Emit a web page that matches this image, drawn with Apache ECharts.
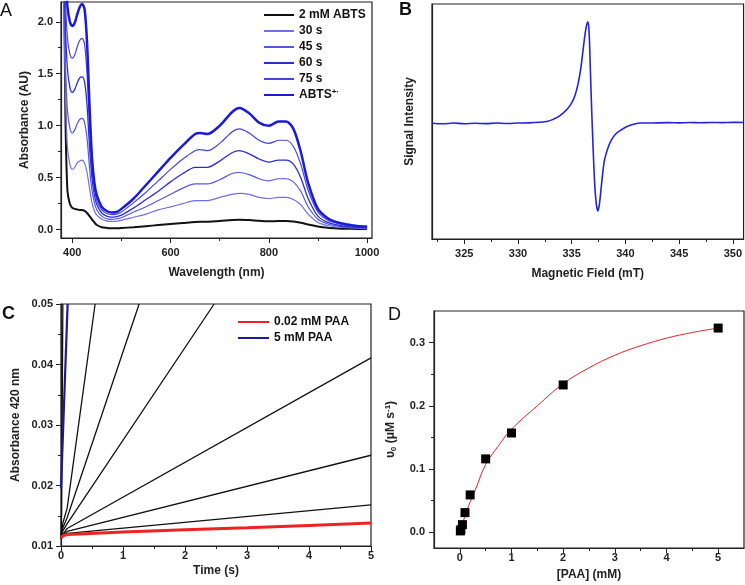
<!DOCTYPE html>
<html><head><meta charset="utf-8">
<script src="https://cdn.jsdelivr.net/npm/echarts@6/dist/echarts.min.js"></script>
<style>html,body{margin:0;padding:0;background:#fff}#c{width:745px;height:585px}</style>
</head><body><div id="c"></div>
<script>
// ---------- Panel A: UV-vis spectra ----------
const wavelengths = [380,383,386,390,395,400,405,410,415,420,425,430,435,440,445,450,460,470,480,490,500,525,550,575,600,625,650,660,675,700,725,740,760,780,800,820,835,850,865,880,900,920,940,960,980,1000];
const absABTS   = [3.0,2.5,1.1,0.38,0.25,0.21,0.2,0.195,0.19,0.19,0.18,0.16,0.13,0.1,0.07,0.045,0.024,0.017,0.014,0.014,0.016,0.024,0.034,0.044,0.054,0.064,0.074,0.076,0.077,0.084,0.093,0.096,0.092,0.085,0.08,0.083,0.083,0.078,0.066,0.05,0.031,0.018,0.012,0.009,0.007,0.006];
const abs30s    = [3.0,2.1,1.3,0.8,0.63,0.58,0.6,0.64,0.66,0.67,0.64,0.55,0.4,0.26,0.18,0.14,0.1,0.085,0.08,0.082,0.09,0.12,0.15,0.19,0.22,0.25,0.28,0.28,0.28,0.31,0.34,0.35,0.34,0.31,0.3,0.31,0.31,0.29,0.24,0.15,0.07,0.04,0.025,0.02,0.015,0.01];
const abs45s    = [3.0,2.3,1.6,1.15,0.98,0.93,0.96,1.02,1.06,1.07,1.03,0.88,0.6,0.38,0.26,0.19,0.13,0.105,0.1,0.105,0.115,0.17,0.22,0.28,0.34,0.4,0.44,0.44,0.44,0.48,0.54,0.55,0.53,0.49,0.47,0.49,0.49,0.46,0.37,0.22,0.1,0.055,0.035,0.025,0.02,0.015];
const abs60s    = [3.0,2.5,1.95,1.55,1.37,1.32,1.35,1.41,1.46,1.47,1.42,1.2,0.8,0.5,0.33,0.24,0.16,0.13,0.12,0.125,0.14,0.21,0.29,0.37,0.46,0.54,0.6,0.6,0.6,0.66,0.74,0.76,0.73,0.68,0.65,0.67,0.67,0.63,0.5,0.3,0.13,0.07,0.045,0.03,0.025,0.02];
const abs75s    = [3.0,2.6,2.2,1.85,1.69,1.65,1.68,1.76,1.82,1.84,1.78,1.5,1.0,0.6,0.4,0.28,0.19,0.155,0.145,0.15,0.17,0.26,0.36,0.47,0.58,0.68,0.76,0.77,0.76,0.83,0.94,0.97,0.93,0.86,0.83,0.86,0.86,0.8,0.63,0.38,0.17,0.09,0.06,0.04,0.03,0.025];
const absRadical= [3.2,2.8,2.45,2.15,2.0,1.96,1.99,2.07,2.14,2.17,2.12,1.8,1.2,0.7,0.45,0.33,0.22,0.18,0.165,0.17,0.2,0.3,0.43,0.56,0.69,0.81,0.92,0.93,0.92,1.0,1.13,1.17,1.12,1.03,1.0,1.04,1.04,0.97,0.75,0.45,0.2,0.11,0.07,0.05,0.035,0.03];
const aXTicks = [400,600,800,1000];
const aXMinor = [500,700,900];
const aYTicks = [0,0.5,1.0,1.5,2.0];
const aYMinor = [0.25,0.75,1.25,1.75];

// ---------- Panel B: EPR spectrum ----------
const eprField  = [322,323,324,325,326,327,328,329,330,331,332,332.8,333.3,333.7,334.2,334.6,335.0,335.3,335.6,335.85,336.06,336.25,336.4,336.52,336.62,336.72,336.83,336.98,337.14,337.3,337.45,337.6,337.76,337.9,338.06,338.35,338.69,339.1,339.6,340.2,340.85,341.5,342.5,344,345,346,347,348,349,350,351];
const eprSignal = [0,-0.005,0.002,-0.004,0,-0.003,0.002,-0.002,0.002,0.004,0.01,0.02,0.04,0.06,0.1,0.14,0.2,0.27,0.39,0.54,0.72,0.88,0.97,1.0,0.9,0.6,0.23,-0.2,-0.59,-0.8,-0.863,-0.78,-0.62,-0.48,-0.36,-0.25,-0.165,-0.105,-0.066,-0.03,-0.007,0.002,0.003,0.006,0.004,0.007,0.005,0.008,0.006,0.009,0.008];
const bXTicks = [325,330,335,340,345,350];
const bXMinor = [322.5,327.5,332.5,337.5,342.5,347.5];

// ---------- Panel C: kinetics at 420 nm ----------
const cRedT  = [0,0.03,0.1,0.3,1,2,3,4,5];
const cRedA  = [0.0113,0.0117,0.0119,0.012,0.0123,0.0127,0.013,0.0134,0.0138];
const cBlueT = [0,0.107];
const cBlueA = [0.0195,0.05];
const cBlack1T = [0,0.05,0.1,5];     const cBlack1A = [0.0112,0.0118,0.0121,0.0168];
const cBlack2T = [0,0.05,0.1,5];     const cBlack2A = [0.0112,0.012,0.0124,0.025];
const cBlack3T = [0,0.05,0.1,5];     const cBlack3A = [0.0113,0.0122,0.0129,0.0411];
const cBlack4T = [0,0.03,0.1,2.47];  const cBlack4A = [0.0113,0.0125,0.0137,0.05];
const cBlack5T = [0,0.03,0.1,1.26];  const cBlack5A = [0.0114,0.013,0.0147,0.05];
const cBlack6T = [0,0.03,0.1,0.55];  const cBlack6A = [0.0115,0.0138,0.0163,0.05];
const cBlack7T = [0,0.01,0.03];      const cBlack7A = [0.0118,0.016,0.05];
const cXTicks = [0,1,2,3,4,5];
const cXMinor = [0.5,1.5,2.5,3.5,4.5];
const cYTicks = [0.01,0.02,0.03,0.04,0.05];
const cYMinor = [0.015,0.025,0.035,0.045];

// ---------- Panel D: Michaelis-Menten ----------
const dPAA  = [0.01,0.02,0.05,0.1,0.2,0.5,1,2,5];
const dRate = [0.002,0.004,0.012,0.031,0.059,0.116,0.157,0.233,0.323];
const dFitX = [0.02,0.1,0.2,0.3,0.5,0.75,1,1.5,2,2.5,3,3.5,4,4.5,5];
const dFitY = [0.003,0.026,0.048,0.067,0.107,0.137,0.163,0.2,0.235,0.26,0.28,0.295,0.307,0.316,0.323];
const dXTicks = [0,1,2,3,4,5];
const dXMinor = [0.5,1.5,2.5,3.5,4.5];
const dYTicks = [0,0.1,0.2,0.3];
const dYMinor = [0.05,0.15,0.25];

const FONT = '"Liberation Sans", Arial, sans-serif';
const INK = '#222';
const pair = (xs, ys) => xs.map((x, i) => [x, ys[i]]);

function mainAxis(g, min, max, ticks, fmt, name, nameGap, labelMargin, opts) {
  return Object.assign({
    type: 'value', gridIndex: g, min: min, max: max,
    axisLine: {show: true, onZero: false, lineStyle: {color: INK, width: 1.2}},
    axisTick: {show: true, inside: false, length: 5, customValues: ticks, lineStyle: {color: INK, width: 1}},
    axisLabel: {show: true, customValues: ticks, formatter: fmt, margin: labelMargin,
      fontFamily: FONT, fontWeight: 'bold', fontSize: 11, color: INK},
    splitLine: {show: false},
    name: name, nameLocation: 'middle', nameGap: nameGap,
    nameTextStyle: {fontFamily: FONT, fontWeight: 'bold', fontSize: 12, color: INK}
  }, opts || {});
}
function minorAxis(g, min, max, ticks, pos) {
  return {
    type: 'value', gridIndex: g, min: min, max: max, position: pos,
    axisLine: {show: false, onZero: false},
    axisTick: {show: true, inside: false, length: 3, customValues: ticks, lineStyle: {color: INK, width: 1}},
    axisLabel: {show: false}, splitLine: {show: false}
  };
}

const grids = [
  {left: 61, top: 2, width: 311, height: 236},
  {left: 432, top: 4, width: 312, height: 235},
  {left: 61, top: 304, width: 310, height: 242},
  {left: 434, top: 311, width: 310, height: 237}
].map(g => Object.assign(g, {show: true, borderColor: INK, borderWidth: 1.2, backgroundColor: 'transparent'}));

const xAxes = [
  mainAxis(0, 377, 1010, aXTicks, v => String(v), 'Wavelength (nm)', 29, 9, {position: 'bottom'}),
  mainAxis(1, 322, 351, bXTicks, v => String(v), 'Magnetic Field (mT)', 29, 9, {position: 'bottom'}),
  mainAxis(2, 0, 5, cXTicks, v => String(v), 'Time (s)', 19, 4, {position: 'bottom'}),
  mainAxis(3, -0.5, 5.5, dXTicks, v => String(v), '[PAA] (mM)', 21, 4, {position: 'bottom'}),
  minorAxis(0, 377, 1010, aXMinor, 'bottom'),
  minorAxis(1, 322, 351, bXMinor, 'bottom'),
  minorAxis(2, 0, 5, cXMinor, 'bottom'),
  minorAxis(3, -0.5, 5.5, dXMinor, 'bottom')
];
const yAxes = [
  mainAxis(0, -0.08, 2.19, aYTicks, v => v.toFixed(1), 'Absorbance (AU)', 30, 8, {position: 'left'}),
  mainAxis(1, -1.139, 1.174, [], v => '', 'Signal Intensity', 16, 8, {position: 'left', axisTick: {show: false}, axisLabel: {show: false}}),
  mainAxis(2, 0.01, 0.05, cYTicks, v => v.toFixed(2), 'Absorbance 420 nm', 39, 8, {position: 'left'}),
  mainAxis(3, -0.025, 0.35, dYTicks, v => v.toFixed(1), '{i|υ}{sub|0}{i| (μM s}{sup|-1}{i|)}', 36, 9, {position: 'left',
    nameTextStyle: {fontFamily: FONT, fontWeight: 'bold', fontSize: 12, color: INK,
      rich: {i: {fontFamily: FONT, fontWeight: 'bold', fontSize: 12, color: INK},
             sub: {fontFamily: FONT, fontWeight: 'bold', fontSize: 8, color: INK, verticalAlign: 'bottom', padding: [6, 0, 0, 0]},
             sup: {fontFamily: FONT, fontWeight: 'bold', fontSize: 8, color: INK, verticalAlign: 'top', padding: [0, 0, 6, 0]}}}}),
  minorAxis(0, -0.08, 2.19, aYMinor, 'left'),
  minorAxis(2, 0.01, 0.05, cYMinor, 'left'),
  minorAxis(3, -0.025, 0.35, dYMinor, 'left')
];

function lineSeries(name, xi, yi, data, color, width, smooth) {
  return {type: 'line', name: name, xAxisIndex: xi, yAxisIndex: yi, data: data,
    symbol: 'none', showSymbol: false, smooth: smooth, clip: true, silent: true,
    lineStyle: {color: color, width: width}, itemStyle: {color: color}};
}
const RADICAL = 'ABTS+·';
const series = [
  lineSeries('2 mM ABTS', 0, 0, pair(wavelengths, absABTS), '#111111', 2, 0.3),
  lineSeries('30 s', 0, 0, pair(wavelengths, abs30s), '#6e6ef0', 1.2, 0.3),
  lineSeries('45 s', 0, 0, pair(wavelengths, abs45s), '#5555ea', 1.2, 0.3),
  lineSeries('60 s', 0, 0, pair(wavelengths, abs60s), '#2d2dd8', 1.3, 0.3),
  lineSeries('75 s', 0, 0, pair(wavelengths, abs75s), '#4545e2', 1.2, 0.3),
  lineSeries(RADICAL, 0, 0, pair(wavelengths, absRadical), '#1a1ad8', 2.5, 0.3),
  lineSeries('EPR', 1, 1, pair(eprField, eprSignal), '#2424dc', 1.6, 0.3),
  lineSeries('k1', 2, 2, pair(cBlack1T, cBlack1A), '#111', 1.3, false),
  lineSeries('k2', 2, 2, pair(cBlack2T, cBlack2A), '#111', 1.3, false),
  lineSeries('k3', 2, 2, pair(cBlack3T, cBlack3A), '#111', 1.3, false),
  lineSeries('k4', 2, 2, pair(cBlack4T, cBlack4A), '#111', 1.3, false),
  lineSeries('k5', 2, 2, pair(cBlack5T, cBlack5A), '#111', 1.3, false),
  lineSeries('k6', 2, 2, pair(cBlack6T, cBlack6A), '#111', 1.3, false),
  lineSeries('k7', 2, 2, pair(cBlack7T, cBlack7A), '#111', 1.3, false),
  lineSeries('0.02 mM PAA', 2, 2, pair(cRedT, cRedA), '#ee2222', 3, false),
  lineSeries('5 mM PAA', 2, 2, pair(cBlueT, cBlueA), '#1c1c8e', 2.2, false),
  lineSeries('fit', 3, 3, pair(dFitX, dFitY), '#e02424', 1, 0.4),
  {type: 'scatter', name: 'data', xAxisIndex: 3, yAxisIndex: 3, data: pair(dPAA, dRate),
    symbol: 'rect', symbolSize: 9, itemStyle: {color: '#000', opacity: 1}, silent: true, z: 3}
];

const legendText = {fontFamily: FONT, fontWeight: 'bold', fontSize: 12, color: '#111', lineHeight: 14,
  rich: {b: {fontFamily: FONT, fontWeight: 'bold', fontSize: 12, color: '#111'},
         s: {fontFamily: FONT, fontWeight: 'bold', fontSize: 8, color: '#111', verticalAlign: 'top', padding: [0, 0, 6, 0]}}};
const hiddenSymbol = {color: 'rgba(0,0,0,0)', borderColor: 'rgba(0,0,0,0)', borderWidth: 0, opacity: 0};
const legends = [
  {data: ['2 mM ABTS', '30 s', '45 s', '60 s', '75 s', RADICAL], orient: 'vertical', left: 263, top: 8, padding: 0,
   itemWidth: 30, itemHeight: 10, itemGap: 2, itemStyle: hiddenSymbol, selectedMode: false, textStyle: legendText,
   formatter: n => n === RADICAL ? '{b|ABTS}{s|+·}' : n},
  {data: ['0.02 mM PAA', '5 mM PAA'], orient: 'vertical', left: 237, top: 315, padding: 0, itemStyle: hiddenSymbol,
   itemWidth: 31, itemHeight: 10, itemGap: 2, selectedMode: false, textStyle: legendText}
];

const letters = [['A', 0, 2, 'normal'], ['B', 399, 1, 'bold'], ['C', 2, 305, 'bold'], ['D', 388, 306, 'normal']];
const graphic = letters.map(l => ({type: 'text', left: l[1], top: l[2], z: 100,
  style: {text: l[0], font: l[3] + ' 18px ' + FONT, fill: '#111'}}));

const chart = echarts.init(document.getElementById('c'), null, {renderer: 'canvas'});
chart.setOption({
  animation: false, backgroundColor: '#fff',
  grid: grids, xAxis: xAxes, yAxis: yAxes, series: series, legend: legends, graphic: graphic
});
</script></body></html>
